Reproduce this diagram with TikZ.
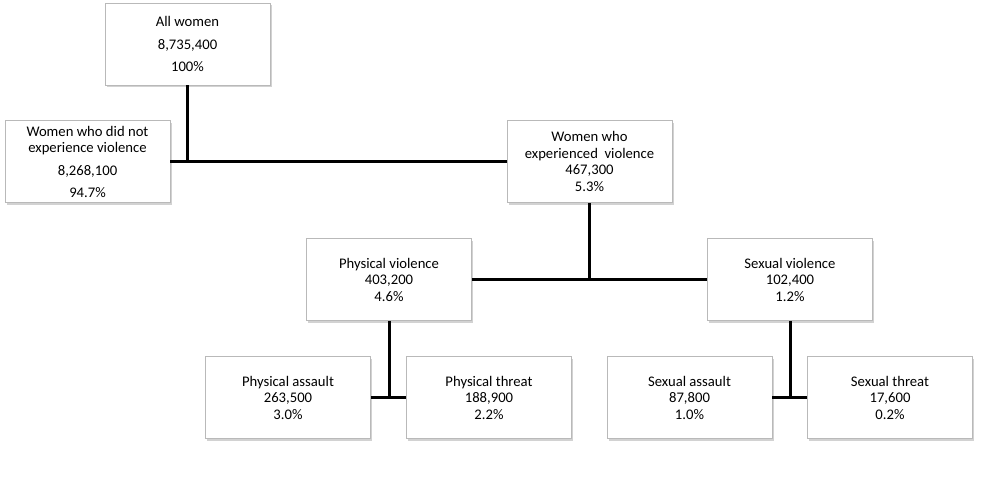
\documentclass[tikz,border=0pt]{standalone}
\usepackage{fontspec}
\setmainfont{Carlito}
\usetikzlibrary{shadows}
\begin{document}
\begin{tikzpicture}[x=0.75pt,y=-0.75pt,
  box/.style={draw=gray!55, line width=0.6pt, fill=white, minimum width=123.75pt, minimum height=61.5pt,
    align=center, inner sep=0pt, font=\fontsize{11pt}{12.4pt}\selectfont,
    drop shadow={shadow xshift=1.2pt, shadow yshift=-1.5pt, fill=gray!70, opacity=0.5}},
  link/.style={line width=2.25pt, black}]
\useasboundingbox (0,0) rectangle (1004,501);
\node[box] (allw) at (187.5,44) {All women\\[4.2pt]8,735,400\\[4.2pt]100\%};
\node[box] (nov) at (87.5,161.5) {Women who did not\\experience violence\\[4.5pt]8,268,100\\[4pt]94.7\%};
\node[box] (exp) at (589.5,161.5) {Women who\\experienced\ \ violence\\467,300\\5.3\%};
\node[box] (pv) at (389,279.5) {Physical violence\\403,200\\4.6\%};
\node[box] (sv) at (790,279.5) {Sexual violence\\102,400\\1.2\%};
\node[box] (pa) at (288,397.5) {Physical assault\\263,500\\3.0\%};
\node[box] (pt) at (489,397.5) {Physical threat\\188,900\\2.2\%};
\node[box] (sa) at (689.5,397.5) {Sexual assault\\87,800\\1.0\%};
\node[box] (st) at (890,397.5) {Sexual threat\\17,600\\0.2\%};
\draw[link] (nov.east) -- (exp.west);
\draw[link] (allw.south) -- (allw.south |- nov.east);
\draw[link] (pv.east) -- (sv.west);
\draw[link] (exp.south) -- (exp.south |- sv.west);
\draw[link] (pa.east) -- (pt.west);
\draw[link] (pv.south) -- (pv.south |- pa.east);
\draw[link] (sa.east) -- (st.west);
\draw[link] (sv.south) -- (sv.south |- sa.east);
\end{tikzpicture}
\end{document}
